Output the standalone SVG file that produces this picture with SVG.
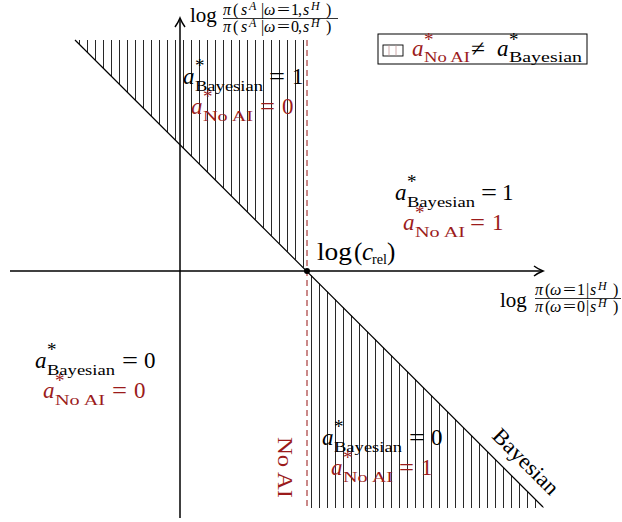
<svg xmlns="http://www.w3.org/2000/svg" width="622" height="522" viewBox="0 0 622 522">
<style>
text{font-family:"Liberation Serif","Times New Roman",serif;fill:#000}
.m{font-size:23px}
.s{font-size:15px}
.sup{font-size:19px}
.f{font-size:16px}
.fs{font-size:12px}
.i{font-style:italic}
.r{fill:#9b1b1b}
.hatch{stroke:#111;stroke-width:1}
.ax{stroke:#000;stroke-width:1.5;fill:none}
</style>
<defs>
<pattern id="vh" patternUnits="userSpaceOnUse" x="0" y="0" width="8" height="10">
<line x1="7.6" y1="-1" x2="7.6" y2="11" class="hatch"/>
</pattern>
</defs>

<g id="regions">
<polygon points="75,40 307,40 307,271" fill="url(#vh)"/>
<polygon points="307,271 307,508 544,508" fill="url(#vh)"/>
</g>

<g id="connectors">
<line x1="75" y1="40" x2="543" y2="507" stroke="#000" stroke-width="1.2"/>
<line x1="307" y1="40" x2="307" y2="508" stroke="#a83a3a" stroke-width="1.2" stroke-dasharray="6,4"/>
<line x1="180" y1="518" x2="180" y2="20" class="ax"/>
<path d="M175,27 Q178,23 180,18 Q182,23 185,27" class="ax" stroke-width="1.3"/>
<line x1="10" y1="271" x2="541" y2="271" class="ax"/>
<path d="M534,266 Q538,269 543,271 Q538,273 534,276" class="ax" stroke-width="1.3"/>
<circle cx="307" cy="271" r="3" fill="#000"/>
</g>

<g id="yaxis-label">
<text x="190" y="22" style="font-size:21px">log</text>
<text y="15" class="f"><tspan x="223" class="i">π</tspan><tspan x="233">(</tspan><tspan x="241" class="i">s</tspan><tspan x="249" dy="-5" class="fs i">A</tspan><tspan x="261" dy="5">|</tspan><tspan x="264" class="i">ω</tspan><tspan x="277" textLength="13" lengthAdjust="spacingAndGlyphs">=</tspan><tspan x="291">1</tspan><tspan x="298">,</tspan><tspan x="303" class="i">s</tspan><tspan x="311" dy="-5" class="fs i">H</tspan><tspan x="326" dy="5">)</tspan></text>
<line x1="223" y1="18.5" x2="338" y2="18.5" stroke="#000" stroke-width="0.8"/>
<text y="32" class="f"><tspan x="223" class="i">π</tspan><tspan x="233">(</tspan><tspan x="241" class="i">s</tspan><tspan x="249" dy="-5" class="fs i">A</tspan><tspan x="261" dy="5">|</tspan><tspan x="264" class="i">ω</tspan><tspan x="277" textLength="13" lengthAdjust="spacingAndGlyphs">=</tspan><tspan x="291">0</tspan><tspan x="298">,</tspan><tspan x="303" class="i">s</tspan><tspan x="311" dy="-5" class="fs i">H</tspan><tspan x="326" dy="5">)</tspan></text>
</g>

<g id="xaxis-label">
<text x="500" y="307" style="font-size:21px">log</text>
<text y="295" class="f"><tspan x="535" class="i">π</tspan><tspan x="545">(</tspan><tspan x="550" class="i">ω</tspan><tspan x="563" textLength="13" lengthAdjust="spacingAndGlyphs">=</tspan><tspan x="577">1</tspan><tspan x="586">|</tspan><tspan x="590" class="i">s</tspan><tspan x="598" dy="-5" class="fs i">H</tspan><tspan x="613" dy="5">)</tspan></text>
<line x1="535" y1="298.5" x2="621" y2="298.5" stroke="#000" stroke-width="0.8"/>
<text y="312" class="f"><tspan x="535" class="i">π</tspan><tspan x="545">(</tspan><tspan x="550" class="i">ω</tspan><tspan x="563" textLength="13" lengthAdjust="spacingAndGlyphs">=</tspan><tspan x="577">0</tspan><tspan x="586">|</tspan><tspan x="590" class="i">s</tspan><tspan x="598" dy="-5" class="fs i">H</tspan><tspan x="613" dy="5">)</tspan></text>
</g>

<g id="crel-label">
<text y="260" style="font-size:25px"><tspan x="317" textLength="35" lengthAdjust="spacingAndGlyphs">log</tspan><tspan x="354">(</tspan><tspan x="362" class="i">c</tspan><tspan x="372" dy="4" style="font-size:15px" textLength="15" lengthAdjust="spacingAndGlyphs">rel</tspan><tspan x="387" dy="-4">)</tspan></text>
</g>

<g id="label-topleft">
<text y="84" class="m"><tspan x="183" class="i">a</tspan><tspan x="269" textLength="16" lengthAdjust="spacingAndGlyphs">=</tspan><tspan x="292">1</tspan></text>
<text x="195" y="72" class="sup">*</text>
<text x="195" y="91" class="s" textLength="68" lengthAdjust="spacingAndGlyphs">Bayesian</text>
<text y="114" class="m r"><tspan x="191" class="i">a</tspan><tspan x="260" textLength="15" lengthAdjust="spacingAndGlyphs">=</tspan><tspan x="282">0</tspan></text>
<text x="203" y="103" class="sup r">*</text>
<text x="203" y="121" class="s r" textLength="50" lengthAdjust="spacingAndGlyphs">No AI</text>
</g>

<g id="label-right">
<text y="200" class="m"><tspan x="395" class="i">a</tspan><tspan x="481" textLength="16" lengthAdjust="spacingAndGlyphs">=</tspan><tspan x="502">1</tspan></text>
<text x="407" y="188" class="sup">*</text>
<text x="407" y="207" class="s" textLength="68" lengthAdjust="spacingAndGlyphs">Bayesian</text>
<text y="230" class="m r"><tspan x="403" class="i">a</tspan><tspan x="470" textLength="15" lengthAdjust="spacingAndGlyphs">=</tspan><tspan x="492">1</tspan></text>
<text x="415" y="219" class="sup r">*</text>
<text x="415" y="237" class="s r" textLength="50" lengthAdjust="spacingAndGlyphs">No AI</text>
</g>

<g id="label-bottomleft">
<text y="368" class="m"><tspan x="35" class="i">a</tspan><tspan x="122" textLength="16" lengthAdjust="spacingAndGlyphs">=</tspan><tspan x="144">0</tspan></text>
<text x="47" y="356" class="sup">*</text>
<text x="47" y="375" class="s" textLength="68" lengthAdjust="spacingAndGlyphs">Bayesian</text>
<text y="398" class="m r"><tspan x="43" class="i">a</tspan><tspan x="112" textLength="15" lengthAdjust="spacingAndGlyphs">=</tspan><tspan x="134">0</tspan></text>
<text x="55" y="387" class="sup r">*</text>
<text x="55" y="405" class="s r" textLength="50" lengthAdjust="spacingAndGlyphs">No AI</text>
</g>

<g id="label-bottom">
<text y="445" class="m"><tspan x="322" class="i">a</tspan><tspan x="409" textLength="16" lengthAdjust="spacingAndGlyphs">=</tspan><tspan x="431">0</tspan></text>
<text x="334" y="433" class="sup">*</text>
<text x="334" y="452" class="s" textLength="68" lengthAdjust="spacingAndGlyphs">Bayesian</text>
<text y="475" class="m r"><tspan x="331" class="i">a</tspan><tspan x="399" textLength="15" lengthAdjust="spacingAndGlyphs">=</tspan><tspan x="421">1</tspan></text>
<text x="343" y="464" class="sup r">*</text>
<text x="343" y="482" class="s r" textLength="50" lengthAdjust="spacingAndGlyphs">No AI</text>
</g>

<g id="label-noai">
<text transform="translate(278,437) rotate(90)" class="r" style="font-size:22px" textLength="61" lengthAdjust="spacingAndGlyphs">No AI</text>
</g>

<g id="label-bayesian">
<text transform="translate(491,437) rotate(45)" style="font-size:22px" textLength="84" lengthAdjust="spacingAndGlyphs">Bayesian</text>
</g>

<g id="legend">
<rect x="378" y="34" width="209" height="30" fill="#fff" stroke="#000" stroke-width="1"/>
<rect x="383" y="45" width="20" height="11" fill="none" stroke="#000" stroke-width="0.9"/>
<line x1="389" y1="45.5" x2="389" y2="55.5" stroke="#c9a0a0" stroke-width="0.9"/>
<line x1="396" y1="45.5" x2="396" y2="55.5" stroke="#c9a0a0" stroke-width="0.9"/>
<text x="412" y="56" class="m r i">a</text>
<text x="424" y="46" class="sup r">*</text>
<text x="424" y="62" class="s r" textLength="46" lengthAdjust="spacingAndGlyphs">No AI</text>
<text x="471" y="56" class="m" textLength="14" lengthAdjust="spacingAndGlyphs">≠</text>
<text x="497" y="56" class="m i">a</text>
<text x="509" y="46" class="sup">*</text>
<text x="509" y="62" class="s" textLength="73" lengthAdjust="spacingAndGlyphs">Bayesian</text>
</g>
</svg>
